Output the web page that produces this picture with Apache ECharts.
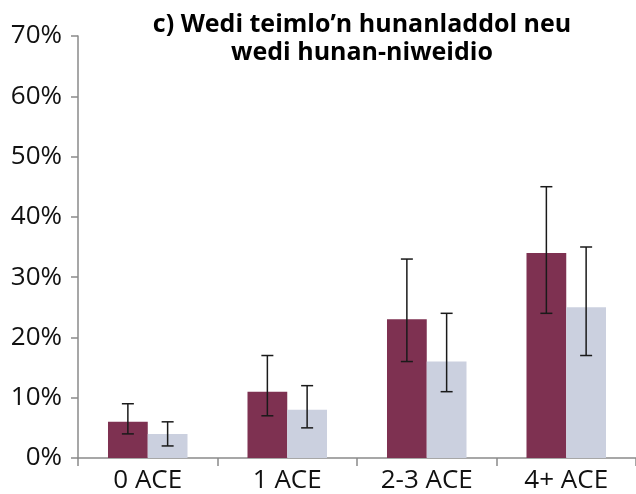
<!DOCTYPE html>
<html>
<head>
<meta charset="utf-8">
<script src="https://cdn.jsdelivr.net/npm/echarts@6/dist/echarts.min.js"></script>
<style>
  html, body { margin: 0; padding: 0; background: #fff; }
  #chart { width: 636px; height: 494px; }
</style>
</head>
<body>
<div id="chart"></div>
<script>
// categories and values (percent)
const categories = ["0 ACE", "1 ACE", "2-3 ACE", "4+ ACE"];
const maroonValues = [6, 11, 23, 34];
const maroonLow = [4, 7, 16, 24];
const maroonHigh = [9, 17, 33, 45];
const greyValues = [4, 8, 16, 25];
const greyLow = [2, 5, 11, 17];
const greyHigh = [6, 12, 24, 35];

const titleText = "c) Wedi teimlo\u2019n hunanladdol neu\nwedi hunan-niweidio";
const FONT = "Open Sans";
const GAP = 0.43;

function errorData(low, high) {
  return categories.map((c, i) => [i, low[i], high[i]]);
}

// draws an error bar centred on one of the two bars in a category
function makeErrorRender(side) {
  return function (params, api) {
    const idx = api.value(0);
    const top = api.coord([idx, api.value(2)]);
    const bottom = api.coord([idx, api.value(1)]);
    const band = api.size([1, 0])[0];
    const barW = band * (1 - GAP) / 2;
    const x = top[0] + side * barW / 2;
    const cap = 6;
    const style = { stroke: "#1a1a1a", lineWidth: 1.5 };
    return {
      type: "group",
      children: [
        { type: "line", shape: { x1: x, y1: top[1], x2: x, y2: bottom[1] }, style: style },
        { type: "line", shape: { x1: x - cap, y1: top[1], x2: x + cap, y2: top[1] }, style: style },
        { type: "line", shape: { x1: x - cap, y1: bottom[1], x2: x + cap, y2: bottom[1] }, style: style },
      ],
    };
  };
}

const myChart = echarts.init(document.getElementById("chart"));
myChart.setOption({
  animation: false,
  title: {
    text: titleText,
    left: 357,
    top: 6,
    textAlign: "center",
    textStyle: {
      fontFamily: FONT,
      fontWeight: "bold",
      fontSize: 25,
      lineHeight: 28,
      color: "#000",
    },
  },
  grid: {
    left: 78,
    right: 0,
    top: 36,
    bottom: 35,
  },
  xAxis: {
    type: "category",
    data: categories,
    axisLine: { lineStyle: { color: "#8a8a8a", width: 1.5 } },
    axisTick: { show: true, length: 8, lineStyle: { color: "#8a8a8a", width: 1.5 } },
    axisLabel: {
      fontFamily: FONT,
      fontSize: 26,
      color: "#111",
      margin: 10,
    },
  },
  yAxis: {
    type: "value",
    min: 0,
    max: 70,
    interval: 10,
    axisLine: { show: true, lineStyle: { color: "#8a8a8a", width: 1.5 } },
    axisTick: { show: true, length: 7, lineStyle: { color: "#8a8a8a", width: 1.5 } },
    splitLine: { show: false },
    axisLabel: {
      formatter: "{value}%",
      fontFamily: FONT,
      fontSize: 26,
      color: "#111",
      margin: 16,
    },
  },
  series: [
    {
      name: "maroon",
      type: "bar",
      data: maroonValues,
      barGap: "0%",
      barCategoryGap: GAP * 100 + "%",
      itemStyle: { color: "#7e3151" },
    },
    {
      name: "grey",
      type: "bar",
      data: greyValues,
      itemStyle: { color: "#cbd0df" },
    },
    {
      type: "custom",
      data: errorData(maroonLow, maroonHigh),
      encode: { x: 0, y: [1, 2] },
      renderItem: makeErrorRender(-1),
      z: 5,
    },
    {
      type: "custom",
      data: errorData(greyLow, greyHigh),
      encode: { x: 0, y: [1, 2] },
      renderItem: makeErrorRender(1),
      z: 5,
    },
  ],
});
window.addEventListener("resize", function () {
  myChart.resize();
});
</script>
</body>
</html>
